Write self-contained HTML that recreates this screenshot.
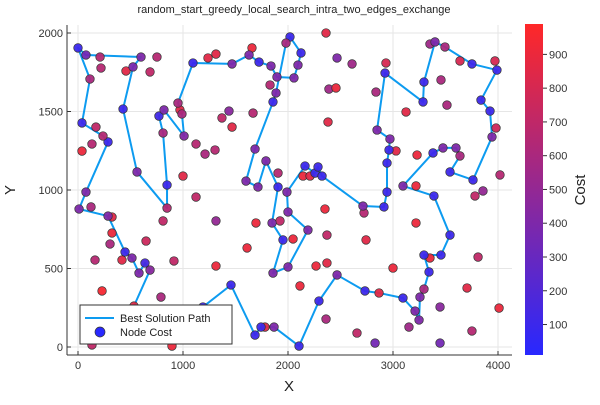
<!DOCTYPE html>
<html><head><meta charset="utf-8"><style>
body{margin:0;background:#fff}
svg text{font-family:"Liberation Sans","DejaVu Sans",sans-serif}
</style></head><body>
<svg id="c" width="600" height="400" xmlns="http://www.w3.org/2000/svg"></svg>
<script>
const pathX=[0,76,600,524,429,562,848,848,810,771,819,1010,990,952,1095,1467,1629,1724,1838,1895,2057,2095,2124,2019,1981,1886,1857,1686,1600,1714,1790,1905,1848,1952,1857,2000,2190,2000,1990,2162,2257,2286,2324,2714,2914,2943,2943,2962,2971,2848,2924,3286,3295,3400,3495,3752,3990,3838,3924,3943,3762,3543,3638,3600,3476,3381,3095,3390,3543,3457,3295,3343,3295,3257,3248,3210,3095,2867,2733,2467,2295,2105,1867,1781,1743,1686,1457,1190,533,686,638,581,514,448,286,10,76,286,238,38,114];
const pathY=[1905,1860,1847,1784,1516,1115,885,1032,1363,1471,1510,1344,1484,1554,1809,1803,1860,1815,1790,1720,1714,1796,1873,1975,1936,1618,1561,1261,1057,1019,1185,1019,790,682,471,510,745,860,987,1153,1108,1147,1089,898,892,987,1172,1255,1325,1382,1745,1561,1688,1943,1911,1803,1764,1573,1503,1338,1064,1115,1217,1268,1268,1236,1026,962,713,586,586,478,369,318,172,229,312,344,357,459,293,6,127,127,127,76,395,255,261,490,535,471,567,605,834,879,987,1306,1344,1427,1707];
const pathCost=[90,350,400,380,100,400,650,100,600,120,400,420,600,600,90,400,400,100,400,400,400,400,100,100,600,400,100,400,400,400,400,100,400,100,400,400,400,400,400,100,100,100,100,400,100,100,100,100,400,400,100,100,100,400,600,100,100,100,100,400,100,100,600,400,400,100,400,100,100,100,100,100,600,400,400,400,100,850,100,400,100,100,400,850,100,100,100,100,850,450,150,400,400,100,400,400,400,100,650,100,600];
const extraX=[210,219,457,686,752,1238,1314,1657,1829,971,171,133,38,1124,1210,1305,1438,1371,1467,1667,1000,1905,2362,2467,2610,2933,2838,2390,2457,2381,3124,3457,3514,3352,3638,3971,3981,4019,3029,3229,3219,2143,2210,2352,2724,2371,2743,2048,2267,2371,3000,2114,3219,3781,3857,3810,3352,3705,3448,4010,2362,2657,2829,3152,3448,3752,124,324,324,305,648,162,419,810,1124,1314,1695,1924,1610,1314,914,229,790,133,895];
const extraY=[1847,1777,1758,1752,1847,1841,1866,1905,1669,1510,1401,1293,1248,1293,1229,1255,1503,1459,1401,1490,1089,1108,2000,1841,1803,1809,1624,1643,1650,1433,1497,1701,1541,1930,1822,1822,1395,1096,1249,1223,1026,1089,1089,879,854,713,682,688,516,535,503,389,790,962,994,573,567,376,255,248,178,89,25,127,25,102,892,828,726,656,675,554,554,803,955,803,790,803,631,516,548,357,318,13,6];
const extraCost=[650,650,850,700,650,850,850,900,650,850,700,650,900,650,600,650,450,700,850,650,850,650,850,400,550,800,600,550,900,850,850,600,600,550,800,800,750,650,850,900,900,900,850,900,650,700,850,900,900,850,900,900,900,700,500,700,900,850,450,900,600,700,350,550,350,650,600,850,900,600,750,650,850,700,700,500,900,700,900,900,700,950,600,700,900];
const xTicks=[0,1000,2000,3000,4000];
const yTicks=[0,500,1000,1500,2000];
const cTicks=[100,200,300,400,500,600,700,800,900];

const NS="http://www.w3.org/2000/svg";
const svg=document.getElementById('c');
const L=67,R=512,T=25,B=355;
const sx=v=>78+v*0.105;
const sy=v=>347-v*0.157;
const cMin=5,cMax=990;
const cy=v=>356.6-(v-cMin)/(cMax-cMin)*332.6;
function col(v){const t=Math.max(0,Math.min(1,(v-cMin)/(cMax-cMin)));
 const r=Math.round(40+t*215),g=40,b=Math.round(255-t*215);return `rgb(${r},${g},${b})`;}
function el(tag,attrs,parent){const e=document.createElementNS(NS,tag);for(const k in attrs)e.setAttribute(k,attrs[k]);(parent||svg).appendChild(e);return e;}
function txt(s,attrs,parent){const e=el('text',attrs,parent);e.textContent=s;return e;}

const title=txt('random_start_greedy_local_search_intra_two_edges_exchange',{x:294,y:13,'font-size':11,'text-anchor':'middle',fill:'#222'});



const grid=el('g',{});


xTicks.forEach(t=>{el('line',{x1:sx(t),x2:sx(t),y1:T,y2:B,stroke:'#e6e6e6','stroke-width':1},grid);});
yTicks.forEach(t=>{el('line',{x1:L,x2:R,y1:sy(t),y2:sy(t),stroke:'#e6e6e6','stroke-width':1},grid);});

const axes=el('g',{});


el('line',{x1:L,x2:R,y1:B,y2:B,stroke:'#333','stroke-width':1},axes);
el('line',{x1:L,x2:L,y1:T,y2:B,stroke:'#333','stroke-width':1},axes);
xTicks.forEach(t=>{el('line',{x1:sx(t),x2:sx(t),y1:B,y2:B-4,stroke:'#333'},axes);
 const e=txt(t,{x:sx(t),y:B+14,'font-size':11,'text-anchor':'middle',fill:'#333'},axes);
 
 });
yTicks.forEach(t=>{el('line',{x1:L,x2:L+4,y1:sy(t),y2:sy(t),stroke:'#333'},axes);
 const e=txt(t,{x:L-4,y:sy(t)+4,'font-size':11,'text-anchor':'end',fill:'#333'},axes);
 
 });
const xl=txt('X',{x:289,y:391,'font-size':15,'text-anchor':'middle',fill:'#222'});


const yl=txt('Y',{x:15,y:190,'font-size':15,'text-anchor':'middle',fill:'#222',transform:'rotate(-90 15 190)'});



const pts=pathX.map((x,i)=>sx(x)+','+sy(pathY[i])).join(' ');
const pl=el('polygon',{points:pts,fill:'none',stroke:'#0d9bf0','stroke-width':2,'stroke-linejoin':'round'});



const ng=el('g',{});


function dot(x,y,c){const d=el('circle',{cx:sx(x),cy:sy(y),r:4.3,fill:col(c),stroke:'#333','stroke-width':0.7,'fill-opacity':0.95},ng);
 
 }
extraX.forEach((x,i)=>dot(x,extraY[i],extraCost[i]));
pathX.forEach((x,i)=>dot(x,pathY[i],pathCost[i]));

// legend
const lg=el('g',{});


el('rect',{x:80,y:305,width:152,height:39,fill:'#fff',stroke:'#333','stroke-width':1},lg);
el('line',{x1:85,x2:114,y1:318,y2:318,stroke:'#0d9bf0','stroke-width':2},lg);
const l1=txt('Best Solution Path',{x:120,y:322,'font-size':11,fill:'#222'},lg);


el('circle',{cx:100,cy:332,r:5,fill:'#2828ff',stroke:'#333','stroke-width':0.7},lg);
const l2=txt('Node Cost',{x:120,y:336,'font-size':11,fill:'#222'},lg);



// colorbar
const defs=el('defs',{});
const gr=el('linearGradient',{id:'cg',x1:0,y1:1,x2:0,y2:0},defs);
el('stop',{offset:0,'stop-color':col(cMin)},gr);
el('stop',{offset:1,'stop-color':col(cMax)},gr);
const cb=el('rect',{x:525,y:24,width:18,height:331,fill:'url(#cg)'});


cTicks.forEach(t=>{el('line',{x1:543,x2:547,y1:cy(t),y2:cy(t),stroke:'#333'});
 const e=txt(t,{x:549,y:cy(t)+4,'font-size':11,fill:'#333'});
 
 });
const ct=txt('Cost',{x:585,y:190,'font-size':15,'text-anchor':'middle',fill:'#222',transform:'rotate(-90 585 190)'});


</script>
</body></html>
